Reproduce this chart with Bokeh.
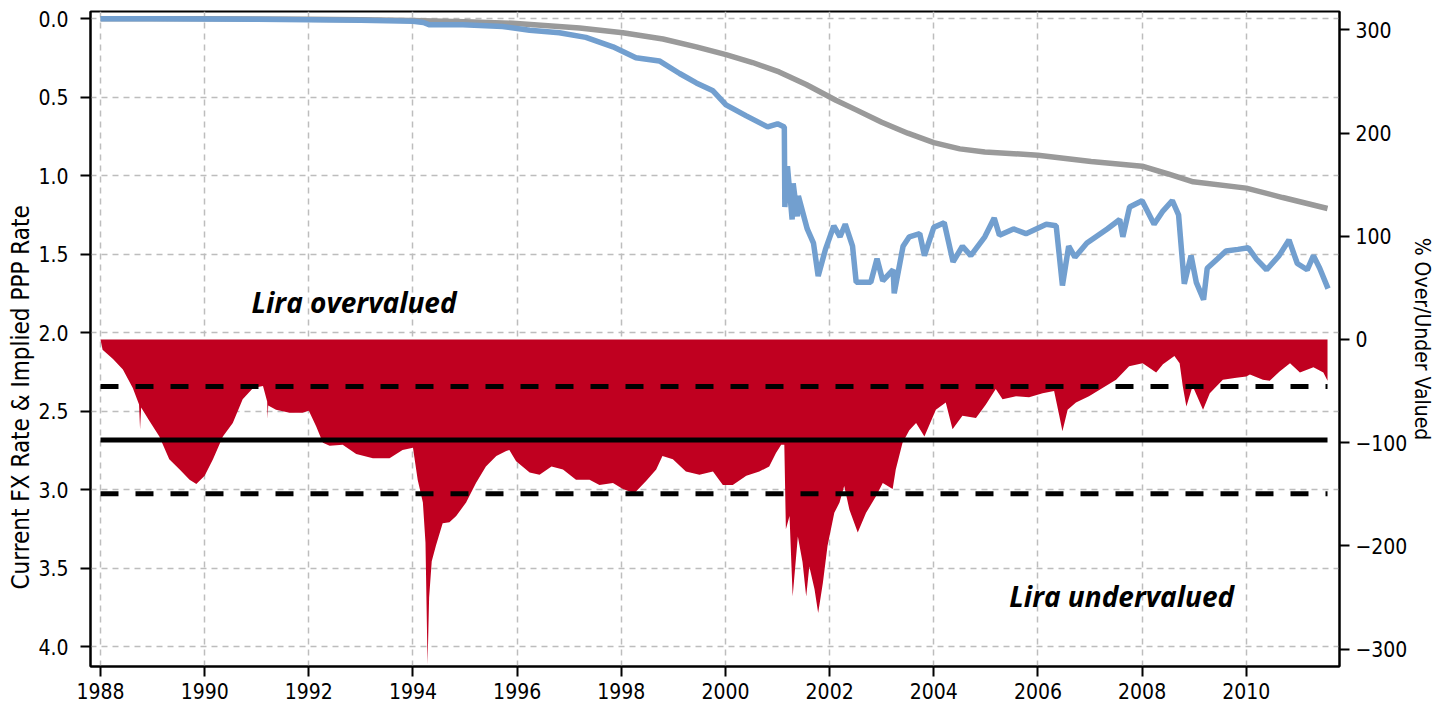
from bokeh.plotting import figure
from bokeh.models import Range1d, LinearAxis, FixedTicker, PrintfTickFormatter, Title
from bokeh.embed import file_html
from bokeh.resources import INLINE
from bokeh.core.properties import value

# ---------------- data ----------------
fx_years = [1988.0, 1989.0, 1990.0, 1991.0, 1992.0, 1993.0, 1994.0, 1994.2, 1994.32, 1994.96,
            1995.72, 1996.24, 1996.81, 1997.32, 1997.84, 1998.28, 1998.73, 1999.12, 1999.44,
            1999.76, 2000.01, 2000.40, 2000.81, 2001.0, 2001.13, 2001.14, 2001.19, 2001.28,
            2001.30, 2001.38, 2001.40, 2001.57, 2001.69, 2001.78, 2001.92, 2002.08, 2002.20,
            2002.30, 2002.44, 2002.51, 2002.79, 2002.91, 2003.02, 2003.22, 2003.24, 2003.41,
            2003.53, 2003.73, 2003.82, 2004.0, 2004.20, 2004.37, 2004.55, 2004.71, 2004.98,
            2005.16, 2005.26, 2005.53, 2005.77, 2006.16, 2006.35, 2006.47, 2006.59, 2006.71,
            2006.94, 2007.33, 2007.57, 2007.63, 2007.76, 2008.0, 2008.23, 2008.39, 2008.58,
            2008.70, 2008.81, 2008.94, 2009.04, 2009.18, 2009.25, 2009.45, 2009.61, 2009.84,
            2010.04, 2010.19, 2010.39, 2010.63, 2010.82, 2010.98, 2011.17, 2011.29, 2011.41,
            2011.57]
fx_rate = [0.0015, 0.0018, 0.0025, 0.004, 0.0068, 0.011, 0.017, 0.025, 0.04, 0.04,
           0.05, 0.075, 0.09, 0.12, 0.18, 0.25, 0.27, 0.35, 0.41,
           0.46, 0.55, 0.62, 0.69, 0.67, 0.69, 1.20, 0.94, 1.28,
           1.05, 1.26, 1.13, 1.34, 1.43, 1.64, 1.47, 1.32, 1.39,
           1.31, 1.45, 1.68, 1.68, 1.53, 1.67, 1.60, 1.75, 1.45,
           1.39, 1.37, 1.51, 1.33, 1.30, 1.55, 1.45, 1.51, 1.39,
           1.27, 1.38, 1.34, 1.37, 1.31, 1.32, 1.70, 1.45, 1.52,
           1.43, 1.34, 1.28, 1.39, 1.20, 1.16, 1.31, 1.23, 1.16,
           1.25, 1.69, 1.51, 1.68, 1.79, 1.59, 1.53, 1.48, 1.47,
           1.46, 1.53, 1.60, 1.51, 1.41, 1.56, 1.60, 1.51, 1.59,
           1.72]

ppp_years = [1988.0, 1990.0, 1992.0, 1993.0, 1994.0, 1995.0, 1995.92, 1997.2, 1998.03, 1998.8,
             1999.44, 2000.01, 2000.52, 2001.03, 2001.55, 2002.12, 2002.5, 2003.0, 2003.5,
             2004.0, 2004.5, 2004.98, 2006.0, 2007.02, 2008.0, 2008.5, 2008.98, 2010.0, 2010.7,
             2011.56]
ppp_rate = [0.0005, 0.0015, 0.004, 0.007, 0.012, 0.02, 0.03, 0.06, 0.09, 0.13,
            0.18, 0.23, 0.28, 0.34, 0.42, 0.52, 0.58, 0.66, 0.73,
            0.79, 0.83, 0.85, 0.87, 0.91, 0.94, 0.99, 1.04, 1.08, 1.14,
            1.21]

val_years = [1988.0, 1988.04, 1988.24, 1988.43, 1988.62, 1988.74, 1988.76, 1988.78, 1988.94,
             1989.13, 1989.32, 1989.52, 1989.71, 1989.84, 1990.0, 1990.16, 1990.35, 1990.54,
             1990.73, 1990.93, 1991.12, 1991.20, 1991.21, 1991.22, 1991.37, 1991.63, 1991.88,
             1992.0, 1992.14, 1992.27, 1992.40, 1992.65, 1992.91, 1993.23, 1993.55, 1993.80,
             1994.0, 1994.09, 1994.19, 1994.24, 1994.28, 1994.31, 1994.36, 1994.44, 1994.57,
             1994.70, 1994.83, 1995.02, 1995.21, 1995.40, 1995.60, 1995.79, 1995.85, 1995.98,
             1996.24, 1996.43, 1996.66, 1996.88, 1997.13, 1997.39, 1997.58, 1997.84, 1998.03,
             1998.25, 1998.48, 1998.67, 1998.79, 1998.99, 1999.24, 1999.50, 1999.76, 1999.95,
             2000.14, 2000.40, 2000.65, 2000.84, 2000.97, 2001.07, 2001.13, 2001.16, 2001.23,
             2001.29, 2001.39, 2001.48, 2001.55, 2001.61, 2001.71, 2001.78, 2001.87, 2001.96,
             2002.09, 2002.19, 2002.28, 2002.38, 2002.54, 2002.70, 2002.89, 2003.02, 2003.21,
             2003.27, 2003.40, 2003.53, 2003.66, 2003.82, 2004.04, 2004.23, 2004.36, 2004.55,
             2004.81, 2005.00, 2005.19, 2005.32, 2005.58, 2005.83, 2006.09, 2006.31, 2006.41,
             2006.47, 2006.57, 2006.73, 2006.98, 2007.24, 2007.50, 2007.75, 2008.01, 2008.27,
             2008.40, 2008.62, 2008.72, 2008.78, 2008.85, 2008.97, 2009.17, 2009.30, 2009.55,
             2009.81, 2010.00, 2010.07, 2010.32, 2010.45, 2010.64, 2010.84, 2011.03, 2011.29,
             2011.48, 2011.56]
val_pct = [0, -10, -19, -29, -47, -63, -87, -66, -79,
           -94, -116, -126, -136, -140, -132, -116, -94, -81,
           -58, -47, -45, -60, -77, -64, -68, -71, -71,
           -69, -84, -100, -103, -102, -111, -115, -115, -107,
           -105, -136, -158, -197, -315, -250, -215, -200, -178,
           -177, -171, -158, -139, -123, -113, -108, -107, -118,
           -129, -131, -123, -126, -136, -136, -141, -139, -145,
           -149, -137, -126, -113, -116, -128, -131, -128, -141,
           -141, -132, -128, -123, -110, -102, -102, -184, -171,
           -249, -191, -216, -249, -220, -242, -265, -236, -200,
           -168, -158, -142, -165, -187, -168, -152, -139, -145,
           -126, -100, -88, -81, -94, -68, -61, -87, -74,
           -76, -63, -48, -58, -55, -56, -52, -50, -74,
           -89, -68, -61, -55, -47, -39, -26, -23, -32,
           -24, -16, -23, -45, -65, -45, -68, -52, -39,
           -37, -36, -34, -39, -40, -31, -23, -32, -27,
           -32, -40]

mean_pct = -97.5
band_pct = [-45.5, -149.5]

year_ticks = [1988, 1990, 1992, 1994, 1996, 1998, 2000, 2002, 2004, 2006, 2008, 2010]
year_labels = ["1988", "1990", "1992", "1994", "1996", "1998", "2000", "2002", "2004",
               "2006", "2008", "2010"]
left_ticks = [0.0, 0.5, 1.0, 1.5, 2.0, 2.5, 3.0, 3.5, 4.0]
right_ticks = [-300, -200, -100, 0, 100, 200, 300]

left_title = "Current FX Rate & Implied PPP Rate"
right_title = "% Over/Under Valued"

notes = ["Lira overvalued", "Lira undervalued"]
note_x = [1990.9, 2005.45]
note_y = [36.5, -249]

# ---------------- figure ----------------
FONT = "Liberation Sans Narrow, DejaVu Sans Condensed, sans-serif"

p = figure(frame_width=1249, frame_height=655, output_backend="svg", toolbar_location=None,
           x_range=Range1d(1987.808, 2011.79), y_range=Range1d(4.127, -0.045),
           min_border_left=90, min_border_right=80, min_border_top=11, min_border_bottom=40,
           background_fill_color="white", border_fill_color="white")
p.extra_y_ranges = {"pct": Range1d(-316.9, 317.8)}

p.outline_line_color = "black"
p.outline_line_width = 2
p.outline_line_alpha = 1

# grids
for g in (p.xgrid, p.ygrid):
    g.grid_line_color = "#bdbdbd"
    g.grid_line_dash = "6 5"
    g.grid_line_width = 1.5

# axes
xa = p.xaxis[0]
xa.ticker = FixedTicker(ticks=year_ticks)
xa.major_label_overrides = {t: l for t, l in zip(year_ticks, year_labels)}
ya = p.yaxis[0]
ya.ticker = FixedTicker(ticks=left_ticks)
ya.formatter = PrintfTickFormatter(format="%.1f")

ra = LinearAxis(y_range_name="pct", ticker=FixedTicker(ticks=right_ticks),
                axis_label=right_title)
p.add_layout(ra, "right")

for ax in (xa, ya, ra):
    ax.axis_line_color = "black"
    ax.axis_line_width = 2
    ax.major_tick_line_color = "black"
    ax.major_tick_line_width = 2
    ax.major_tick_out = 10
    ax.major_tick_in = 0
    ax.minor_tick_line_color = None
    ax.major_label_text_font = FONT
    ax.major_label_text_font_size = "21px"
    ax.major_label_text_color = "black"
    ax.axis_label_text_font = FONT
    ax.axis_label_text_font_size = "21px"
    ax.axis_label_text_font_style = "normal"
    ax.axis_label_text_color = "black"

ya.major_label_standoff = 12
xa.major_label_standoff = 6
ra.major_label_standoff = 6
ra.axis_label_standoff = 0

# left axis title, anchored near the bottom as in the reference
p.add_layout(Title(text=left_title, align="left", offset=77, standoff=2,
                   text_font=FONT, text_font_size="24px", text_font_style="normal",
                   text_color="black"), "left")

# red over/under valued area
p.varea(x=val_years, y1=[0] * len(val_years), y2=val_pct, fill_color="#c00020",
        y_range_name="pct")

# mean and +/- 1 sd lines
x_span = [val_years[0], val_years[-1]]
p.line(x_span, [mean_pct, mean_pct], line_color="black", line_width=5, y_range_name="pct")
for b in band_pct:
    p.line(x_span, [b, b], line_color="black", line_width=5, line_dash="18 17",
           y_range_name="pct")

# PPP and FX lines
p.line(ppp_years, ppp_rate, line_color="#9a9a9a", line_width=5.5)
p.line(fx_years, fx_rate, line_color="#729fcf", line_width=5.5)

# annotations
p.text(x=note_x, y=note_y, text=notes, y_range_name="pct",
       text_font=value("Open Sans"), text_font_style="bold italic",
       text_font_size="28px", text_color="black", text_baseline="middle",
       text_align="left")

open("out.html", "w").write(file_html(p, INLINE))
